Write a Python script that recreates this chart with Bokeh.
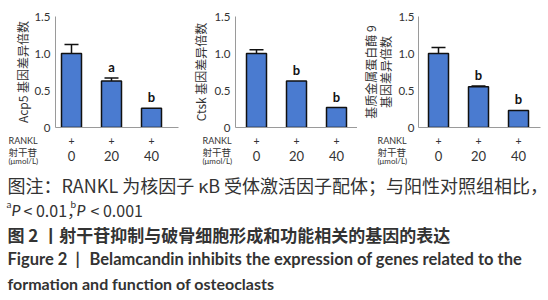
import math
from bokeh.plotting import figure
from bokeh.models import (ColumnDataSource, Range1d, LinearAxis, FixedTicker,
                          Whisker, TeeHead, PrintfTickFormatter)
from bokeh.layouts import column, row
from bokeh.embed import file_html
from bokeh.resources import INLINE
from bokeh.core.properties import value

# ---------------- data ----------------
positions = [1, 2, 3]
rankl = ["+", "+", "+"]
doses = ["0", "20", "40"]
y_ticks = [0, 0.5, 1.0, 1.5]

acp5 = [1.0, 0.63, 0.26]
acp5_err = [0.12, 0.04, 0.0]
acp5_sig = ["", "a", "b"]

ctsk = [1.0, 0.63, 0.27]
ctsk_err = [0.05, 0.0, 0.0]
ctsk_sig = ["", "b", "b"]

mmp9 = [1.0, 0.55, 0.23]
mmp9_err = [0.08, 0.01, 0.0]
mmp9_sig = ["", "b", "b"]

ylabel1 = "Acp5 基因差异倍数"
ylabel2 = "Ctsk 基因差异倍数"
ylabel3a = "基质金属蛋白酶 9"
ylabel3b = "基因差异倍数"
row_rankl = "RANKL"
row_drug = "射干苷"
row_unit = "(μmol/L)"

caption1 = "图注：RANKL 为核因子 κB 受体激活因子配体；与阳性对照组相比，"
caption3 = "图 2 丨射干苷抑制与破骨细胞形成和功能相关的基因的表达"
caption4a = "Figure 2"
caption4b = "|"
caption4c = "Belamcandin inhibits the expression of genes related to the"
caption5 = "formation and function of osteoclasts"

CJK = "Noto Sans CJK SC"
LAT = "Lato"
BAR = "#4a7bd0"
AX = "#9a9a9a"
TXT = "#333333"
PX = 40.0      # pixels per category unit
TOP_H = 134    # height of the bar-chart row
FRAME_TOP = 16
FRAME_BOT = 127


def style_axis(ax, size, standoff):
    ax.major_tick_out = 0
    ax.major_tick_in = 0
    ax.minor_tick_out = 0
    ax.minor_tick_in = 0
    ax.major_label_standoff = standoff
    ax.major_label_text_font = LAT
    ax.major_label_text_font_size = size
    ax.major_label_text_color = TXT


def make_chart(vals, errs, sigs, ylabel, fig_start, fig_end, frame_left, frame_w,
               x0, label_standoff, tick_standoff=5):
    width = fig_end - fig_start
    left = frame_left - fig_start
    right = width - left - frame_w
    p = figure(width=width, height=TOP_H, output_backend="svg", toolbar_location=None,
               x_range=Range1d(x0, x0 + frame_w / PX), y_range=Range1d(0, 1.5),
               min_border_left=left, min_border_right=right,
               min_border_top=FRAME_TOP, min_border_bottom=TOP_H - FRAME_BOT,
               x_axis_location=None, y_axis_location=None)
    p.outline_line_color = None
    p.grid.visible = False

    src = ColumnDataSource(dict(x=positions, top=vals,
                                upper=[v + e for v, e in zip(vals, errs)],
                                sig=sigs))
    p.vbar(x="x", top="top", width=0.5, bottom=0, source=src,
           fill_color=BAR, line_color="#111111", line_width=1.5)

    wx = [x for x, e in zip(positions, errs) if e > 0]
    wl = [v for v, e in zip(vals, errs) if e > 0]
    wu = [v + e for v, e in zip(vals, errs) if e > 0]
    wsrc = ColumnDataSource(dict(x=wx, lower=wl, upper=wu))
    p.add_layout(Whisker(source=wsrc, base="x", lower="lower", upper="upper",
                         dimension="height", line_color="#111111", line_width=1.5,
                         upper_head=TeeHead(size=14, line_color="#111111", line_width=1.5),
                         lower_head=None))

    p.text(x="x", y="upper", text="sig", source=src, text_align="center",
           text_baseline="bottom", y_offset=-3, text_font=value(LAT),
           text_font_size="13px", text_font_style="bold", text_color="#111111")

    yax = LinearAxis(ticker=FixedTicker(ticks=y_ticks),
                     formatter=PrintfTickFormatter(format="%.1f"),
                     major_label_overrides={0: "0"})
    yax.axis_line_color = AX
    style_axis(yax, "11.5px", tick_standoff)
    if ylabel:
        yax.axis_label = ylabel
        yax.axis_label_text_font = CJK
        yax.axis_label_text_font_size = "12px"
        yax.axis_label_text_font_style = "normal"
        yax.axis_label_text_color = TXT
        yax.axis_label_standoff = label_standoff
    p.add_layout(yax, "left")

    xax = LinearAxis(ticker=FixedTicker(ticks=[]))
    xax.axis_line_color = AX
    style_axis(xax, "1px", 0)
    p.add_layout(xax, "below")
    return p


def make_rows(strip_start, strip_end, frame_left, x0, header_px):
    # strip under the axis holding the treatment rows, on the chart's x scale
    s = figure(width=strip_end - strip_start, height=170 - TOP_H,
               output_backend="svg", toolbar_location=None,
               x_range=Range1d(x0 + (strip_start - frame_left) / PX,
                               x0 + (strip_end - frame_left) / PX),
               y_range=Range1d(170, TOP_H), min_border=0,
               x_axis_location=None, y_axis_location=None)
    s.outline_line_color = None
    s.grid.visible = False
    s.text(x=positions, y=[140.5] * 3, text=rankl, text_font=value(LAT),
           text_font_size="10.5px", text_color=TXT, text_align="center",
           text_baseline="middle")
    s.text(x=positions, y=[155] * 3, text=doses, text_font=value(LAT),
           text_font_size="13px", text_color=TXT, text_align="center",
           text_baseline="middle")
    hx = x0 + (header_px - frame_left) / PX
    s.text(x=[hx], y=[140], text=[row_rankl], text_font=value(LAT),
           text_font_size="9px", text_color=TXT, text_baseline="middle")
    s.text(x=[hx], y=[151.5], text=[row_drug], text_font=value(CJK),
           text_font_size="9.5px", text_color=TXT, text_baseline="middle")
    s.text(x=[hx], y=[160.5], text=[row_unit], text_font=value(LAT),
           text_font_size="8px", text_color=TXT, text_baseline="middle")
    return s


p1 = make_chart(acp5, acp5_err, acp5_sig, ylabel1, 0, 180, 55, 123, 0.6, 0)
p2 = make_chart(ctsk, ctsk_err, ctsk_sig, ylabel2, 180, 357, 235, 122, 0.475, 2)
p3 = make_chart(mmp9, mmp9_err, mmp9_sig, None, 394, 548, 418, 122, 0.5, 0,
                tick_standoff=4)

# two-line y title of the third chart
lab3 = figure(width=394 - 357, height=TOP_H, output_backend="svg", toolbar_location=None,
              x_range=Range1d(357, 394), y_range=Range1d(TOP_H, 0), min_border=0,
              x_axis_location=None, y_axis_location=None)
lab3.outline_line_color = None
lab3.grid.visible = False
lab3.text(x=[370, 385], y=[67, 67], text=[ylabel3a, ylabel3b], angle=math.pi / 2,
          text_font=value(CJK), text_font_size="12px", text_color=TXT,
          text_align="center", text_baseline="middle")

s1 = make_rows(0, 180, 55, 0.6, 8)
s2 = make_rows(180, 357, 235, 0.475, 202)
s3 = make_rows(357, 548, 418, 0.5, 377)

cap = figure(width=548, height=130, output_backend="svg", toolbar_location=None,
             x_range=Range1d(0, 548), y_range=Range1d(300, 170),
             min_border=0, x_axis_location=None, y_axis_location=None)
cap.outline_line_color = None
cap.grid.visible = False

cap.text(x=[7], y=[184], text=[caption1], text_font=value(CJK), text_font_size="18px",
         text_color=TXT, text_baseline="middle")
# P-value line
cap.text(x=[6], y=[203], text=["a"], text_font=value(LAT), text_font_size="10px",
         text_color=TXT, text_baseline="middle")
cap.text(x=[11], y=[209], text=["P"], text_font=value(LAT), text_font_size="16px",
         text_font_style="italic", text_color=TXT, text_baseline="middle")
cap.text(x=[23], y=[209], text=["< 0.01，"], text_font=value(CJK), text_font_size="16px",
         text_color=TXT, text_baseline="middle")
cap.text(x=[70], y=[203], text=["b"], text_font=value(LAT), text_font_size="10px",
         text_color=TXT, text_baseline="middle")
cap.text(x=[76], y=[209], text=["P"], text_font=value(LAT), text_font_size="16px",
         text_font_style="italic", text_color=TXT, text_baseline="middle")
cap.text(x=[90], y=[209], text=["< 0.001"], text_font=value(CJK), text_font_size="16px",
         text_color=TXT, text_baseline="middle")
cap.text(x=[7], y=[234], text=[caption3], text_font=value(CJK), text_font_size="17px",
         text_font_style="bold", text_color=TXT, text_baseline="middle")
cap.text(x=[7, 75, 89], y=[258, 258, 258], text=[caption4a, caption4b, caption4c],
         text_font=value(LAT), text_font_size="16.5px",
         text_font_style="bold", text_color=TXT, text_baseline="middle")
cap.text(x=[7], y=[283], text=[caption5], text_font=value(LAT), text_font_size="16px",
         text_font_style="bold", text_color=TXT, text_baseline="middle")

layout = column(row(p1, p2, lab3, p3), row(s1, s2, s3), cap)
open("out.html", "w").write(file_html(layout, INLINE))
